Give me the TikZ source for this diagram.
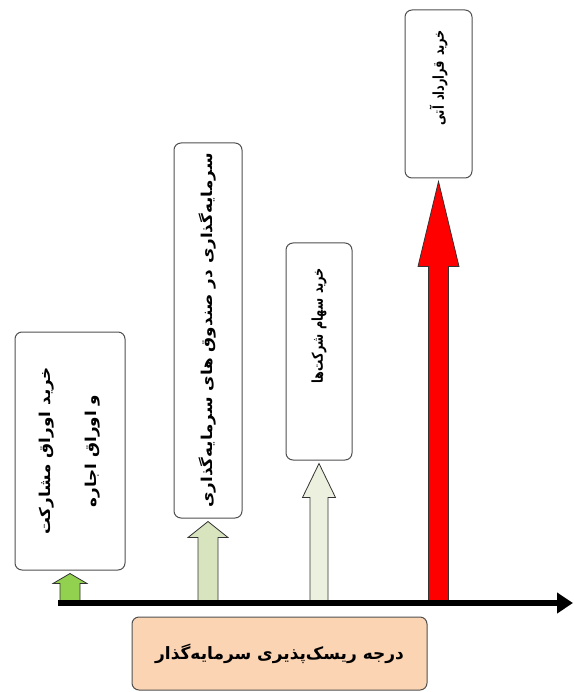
\documentclass[tikz,border=0pt]{standalone}
\usepackage{fontspec}
\usepackage{tikz}
\usetikzlibrary{positioning}
\usetikzlibrary{calc}
\usetikzlibrary{arrows.meta}
\newfontfamily\farsi[Script=Arabic]{DejaVu Sans}
\newfontfamily\farsiwide[Script=Arabic, FakeStretch=1.12]{DejaVu Sans}
\newfontfamily\farsinarrow[Script=Arabic, FakeStretch=0.75]{DejaVu Sans}
\TeXXeTstate=1
\definecolor{limegreen}{HTML}{92D050}
\definecolor{olivepale}{HTML}{D7E4BD}
\definecolor{greenpale}{HTML}{EBF1DE}
\definecolor{peach}{HTML}{FBD4B4}
\definecolor{boxline}{HTML}{505050}

\begin{document}
\begin{tikzpicture}[x=1pt, y=-1pt,
        INV/.style={rectangle, rounded corners=7pt, draw=boxline, line width=1pt, fill=white, rotate=90, align=center, font=\farsiwide\bfseries\fontsize{15}{46}\selectfont},
        INVN/.style={INV, align=right, font=\farsinarrow\bfseries\fontsize{15}{20}\selectfont},
        RISK/.style={rectangle, rounded corners=7pt, draw=boxline, line width=1pt, fill=peach, align=center, minimum width=295pt, minimum height=73pt, font=\farsi\bfseries\fontsize{17}{20}\selectfont},
        BLOCK/.style={draw=black!80, line width=0.8pt, line join=miter}]
        \useasboundingbox (0,0) rectangle (573,692);

        \coordinate (axstart) at (58,603);
        \coordinate (axend) at (573,603);

        \node[INV, minimum width=238pt, minimum height=110pt] (bonds) at (70,451) {\beginR خرید اوراق مشارکت\endR\\\beginR و اوراق اجاره\endR};
        \node[INV, minimum width=375pt, minimum height=68pt] (funds) at (208,330.5) {\beginR سرمایه‌گذاری در صندوق های سرمایه‌گذاری\endR};
        \node[INVN, minimum width=217pt, minimum height=66pt, text width=167pt] (stocks) at (319,351.5) {\beginR خرید سهام شرکت‌ها\endR};
        \node[INVN, minimum width=168pt, minimum height=67pt, text width=128pt] (futures) at (438.5,94) {\beginR خرید قرارداد آتی\endR};

        \foreach \b/\col/\sw/\hw/\hl in {bonds/limegreen/10pt/17pt/10pt, funds/olivepale/10pt/20pt/16pt, stocks/greenpale/9pt/16.5pt/34pt, futures/red/10pt/20.5pt/85pt}
            \draw[BLOCK, fill=\col] let \p1 = (\b.west |- axstart), \p2 = ($(\b.west)+(0,3)$) in
                (\x2-\sw,\y1) -- (\x2-\sw,\y2-\hl) -- (\x2-\hw,\y2-\hl) -- (\x2,\y2) -- (\x2+\hw,\y2-\hl) -- (\x2+\sw,\y2-\hl) -- (\x2+\sw,\y1) -- cycle;

        \draw[line width=6pt, -{Triangle[length=16pt, width=20pt]}] (axstart) -- (axend);

        \node[RISK] (degree) at (279.5,653.5) {\beginR درجه ریسک‌پذیری سرمایه‌گذار\endR};
    \end{tikzpicture}
\end{document}
